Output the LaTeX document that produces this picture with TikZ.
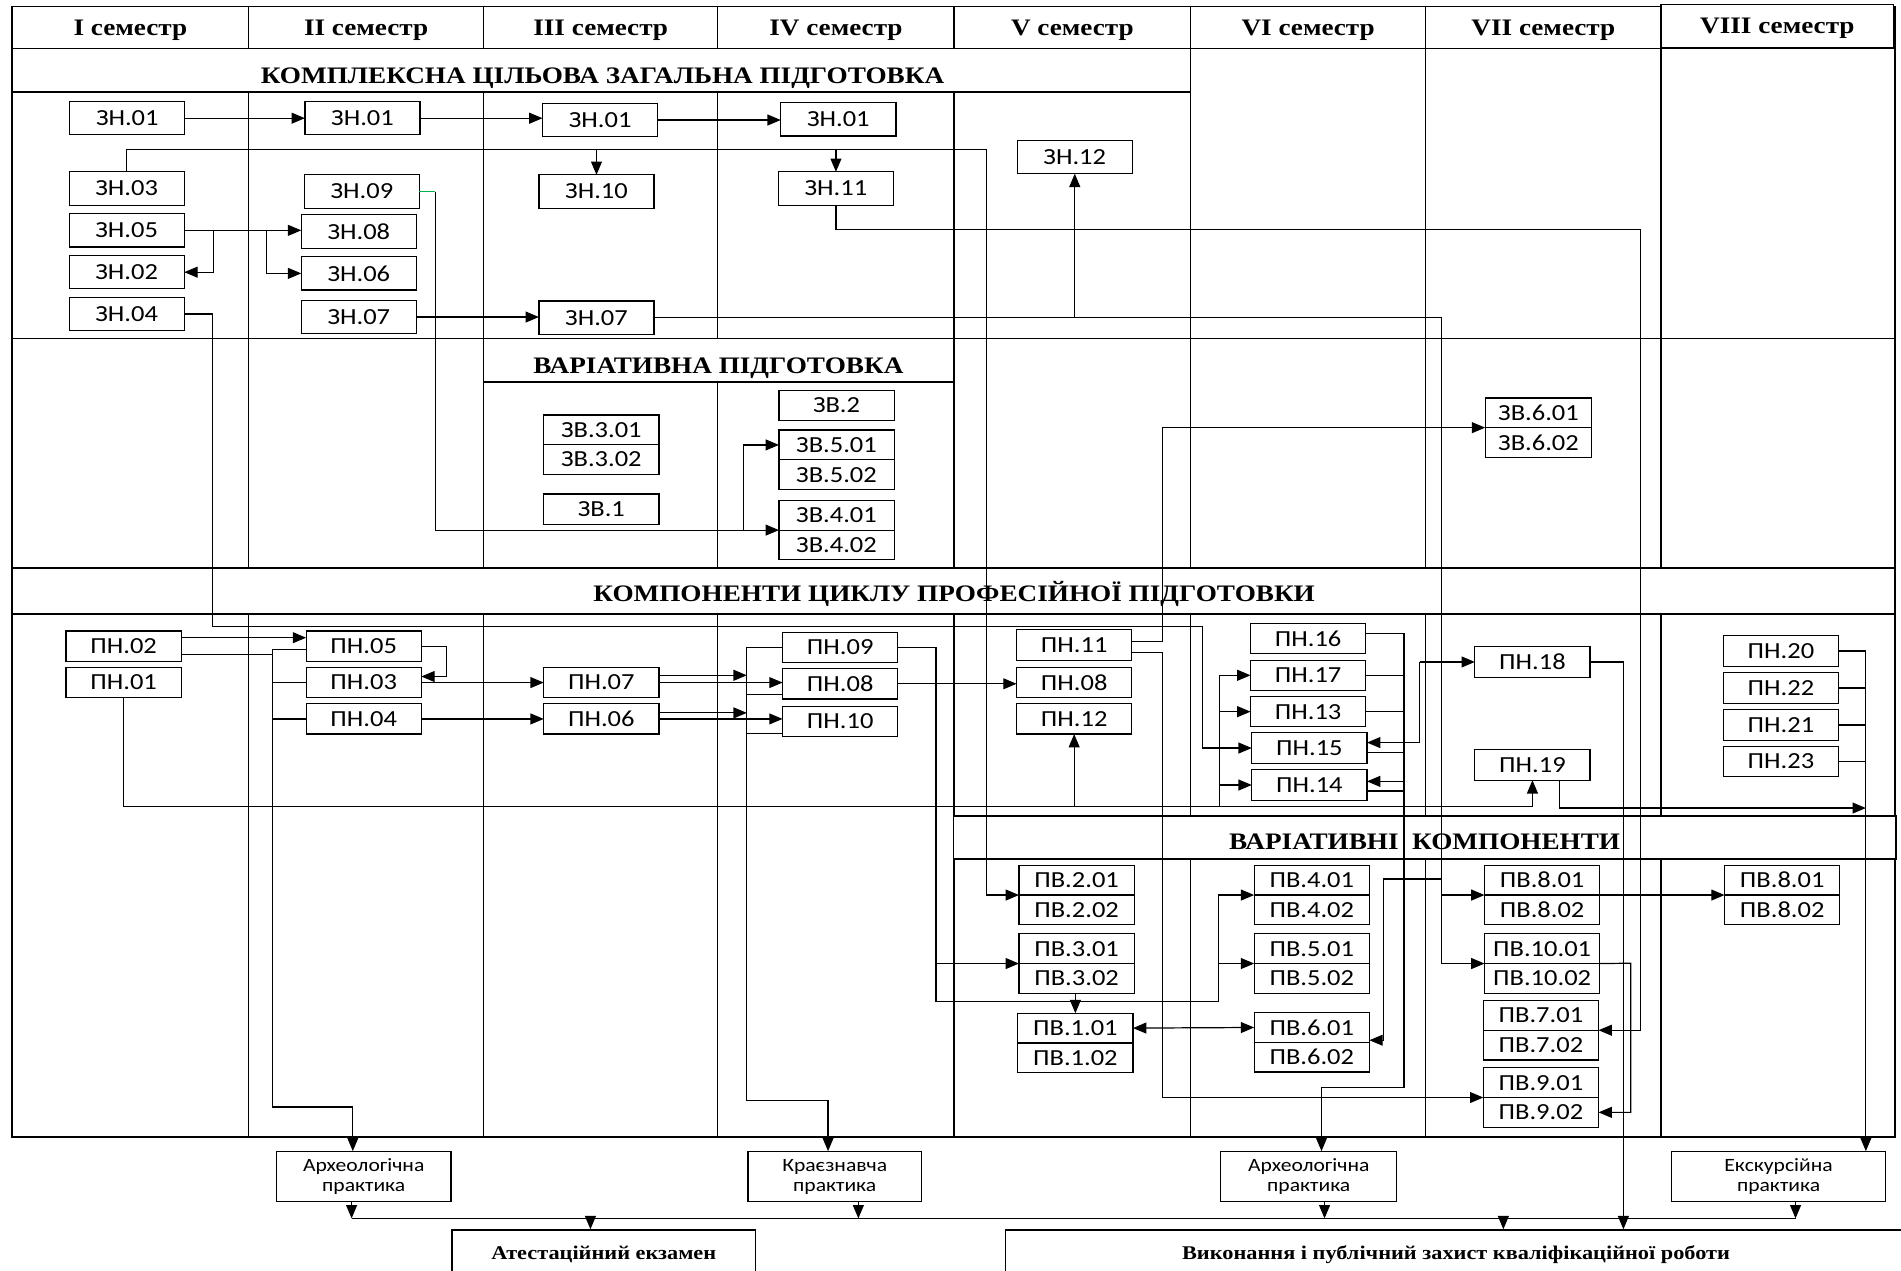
\documentclass[tikz,border=0pt]{standalone}
\usepackage{fontspec}
\setmainfont{Liberation Serif}[FakeStretch=1.15]
\newfontfamily\boxfont{Carlito}[FakeStretch=1.15]
\usetikzlibrary{positioning,arrows.meta}
\definecolor{stubgreen}{RGB}{0,176,80}

\begin{document}
\begin{tikzpicture}[x=1pt,y=-1pt,
  grid/.style={line width=1.2pt},
  band/.style={draw, fill=white, line width=1.2pt},
  bandtext/.style={anchor=base, inner sep=0pt, font=\fontsize{19.5}{20}\selectfont\bfseries},
  box/.style={draw, fill=white, line width=1pt, minimum width=95pt, minimum height=27.5pt, inner sep=0pt, outer sep=0pt, font=\boxfont\fontsize{19}{19}\selectfont},
  pnbox/.style={box, minimum height=25pt},
  pair/.style={box, minimum height=24.5pt},
  prbox/.style={draw, fill=white, line width=1pt, minimum height=41pt, inner sep=0pt, align=center, font=\boxfont\fontsize{15.5}{16.5}\selectfont},
  endbox/.style={draw, fill=white, line width=1.1pt, minimum height=41pt, inner sep=0pt, font=\fontsize{16}{17}\selectfont\bfseries},
  link/.style={line width=1pt},
  arr/.style={link, -{Triangle[length=11pt,width=9pt]}},
  darr/.style={link, {Triangle[length=11pt,width=9pt]}-{Triangle[length=11pt,width=9pt]}}]

\useasboundingbox (0,0) rectangle (1568,1048);

% semester grid
\draw[grid] (10,5.5) rectangle (1563,938);
\draw[grid] (10,40) -- (1563,40);
\draw[grid] (10,279) -- (1563,279);
\foreach \x in {205,399,592,787,982,1176,1370}
  \draw[grid] (\x,5.5) -- (\x,938);
\draw[band] (1370,3.5) rectangle (1562,39.5);
\foreach \r/\x in {I/107.5,II/302,III/495.5,IV/689.5,V/884.5,VI/1079,VII/1273}
  \node[bandtext] (sem\r) at (\x,29) {\r\ семестр};
\node[bandtext] (semVIII) at (1466,27.5) {VIII семестр};

% bands
\draw[band] (10,40) rectangle (982,76);
\node[bandtext] (kczp) at (497,68.7) {КОМПЛЕКСНА ЦІЛЬОВА ЗАГАЛЬНА ПІДГОТОВКА};
\draw[band] (399,279) rectangle (787,315);
\node[bandtext] (vp) at (592.5,308) {ВАРІАТИВНА ПІДГОТОВКА};
\draw[band] (10,468.6) rectangle (1563,506.6);
\node[bandtext] (kcpp) at (787,496) {КОМПОНЕНТИ ЦИКЛУ ПРОФЕСІЙНОЇ ПІДГОТОВКИ};
\draw[band] (786.5,673) rectangle (1564,708.7);
\node[bandtext] (vk) at (1175,700.5) {ВАРІАТИВНІ\ \ КОМПОНЕНТИ};

% ZN
\node[box] (zn01a) at (105,97.5) {ЗН.01};
\node[box] (zn03) at (104.5,155.5) {ЗН.03};
\node[box] (zn05) at (104.5,190) {ЗН.05};
\node[box] (zn02) at (104.5,224.5) {ЗН.02};
\node[box] (zn04) at (104.5,259) {ЗН.04};
\node[box] (zn01b) at (299,97.5) {ЗН.01};
\node[box] (zn09) at (298.5,158) {ЗН.09};
\node[box] (zn08) at (296,191) {ЗН.08};
\node[box] (zn06) at (296,225.5) {ЗН.06};
\node[box] (zn07a) at (296,261.5) {ЗН.07};
\node[box] (zn01c) at (495,99) {ЗН.01};
\node[box] (zn10) at (492,158) {ЗН.10};
\node[box] (zn07b) at (492,262) {ЗН.07};
\node[box] (zn01d) at (691.5,98.5) {ЗН.01};
\node[box] (zn11) at (689.5,155.5) {ЗН.11};
\node[box] (zn12) at (886.5,129.5) {ЗН.12};

% ZV
\node[pair] (zv301) at (496,354.5) {ЗВ.3.01};
\node[pair, below=0pt of zv301] (zv302) {ЗВ.3.02};
\node[pnbox] (zv1) at (496,420) {ЗВ.1};
\node[pnbox] (zv2) at (690,334.5) {ЗВ.2};
\node[pair] (zv501) at (690,367) {ЗВ.5.01};
\node[pair, below=0pt of zv501] (zv502) {ЗВ.5.02};
\node[pair] (zv401) at (690,425) {ЗВ.4.01};
\node[pair, below=0pt of zv401] (zv402) {ЗВ.4.02};
\node[pair, minimum width=88pt] (zv601) at (1269,340.5) {ЗВ.6.01};
\node[pair, minimum width=88pt, below=0pt of zv601] (zv602) {ЗВ.6.02};

% PN
\node[pnbox] (pn02) at (102,533) {ПН.02};
\node[pnbox] (pn01) at (102,563) {ПН.01};
\node[pnbox] (pn05) at (300,533) {ПН.05};
\node[pnbox] (pn03) at (300,563) {ПН.03};
\node[pnbox] (pn04) at (300,593) {ПН.04};
\node[pnbox] (pn07) at (496,563) {ПН.07};
\node[pnbox] (pn06) at (496,593) {ПН.06};
\node[pnbox] (pn09) at (693,534) {ПН.09};
\node[pnbox] (pn08a) at (693,564) {ПН.08};
\node[pnbox] (pn10) at (693,595) {ПН.10};
\node[pnbox] (pn11) at (886,532) {ПН.11};
\node[pnbox] (pn08b) at (886,563) {ПН.08};
\node[pnbox] (pn12) at (886,593) {ПН.12};
\node[pnbox] (pn16) at (1079,526.5) {ПН.16};
\node[pnbox] (pn17) at (1079,557) {ПН.17};
\node[pnbox] (pn13) at (1079,587) {ПН.13};
\node[pnbox] (pn15) at (1080,617) {ПН.15};
\node[pnbox] (pn14) at (1080,647.5) {ПН.14};
\node[pnbox] (pn18) at (1264,546) {ПН.18};
\node[pnbox] (pn19) at (1264,631) {ПН.19};
\node[pnbox] (pn20) at (1469,537) {ПН.20};
\node[pnbox] (pn22) at (1469,567.5) {ПН.22};
\node[pnbox] (pn21) at (1469,598) {ПН.21};
\node[pnbox] (pn23) at (1469,628) {ПН.23};

% PV
\node[pair] (pv201) at (888,726) {ПВ.2.01};
\node[pair, below=0pt of pv201] (pv202) {ПВ.2.02};
\node[pair] (pv301) at (888,782.5) {ПВ.3.01};
\node[pair, below=0pt of pv301] (pv302) {ПВ.3.02};
\node[pair] (pv101) at (887,848) {ПВ.1.01};
\node[pair, below=0pt of pv101] (pv102) {ПВ.1.02};
\node[pair] (pv401) at (1082,726) {ПВ.4.01};
\node[pair, below=0pt of pv401] (pv402) {ПВ.4.02};
\node[pair] (pv501) at (1082,782.5) {ПВ.5.01};
\node[pair, below=0pt of pv501] (pv502) {ПВ.5.02};
\node[pair] (pv601) at (1082,847.5) {ПВ.6.01};
\node[pair, below=0pt of pv601] (pv602) {ПВ.6.02};
\node[pair] (pv801a) at (1272,726) {ПВ.8.01};
\node[pair, below=0pt of pv801a] (pv802a) {ПВ.8.02};
\node[pair] (pv1001) at (1272,782.5) {ПВ.10.01};
\node[pair, below=0pt of pv1001] (pv1002) {ПВ.10.02};
\node[pair] (pv701) at (1271,837.5) {ПВ.7.01};
\node[pair, below=0pt of pv701] (pv702) {ПВ.7.02};
\node[pair] (pv901) at (1271,893) {ПВ.9.01};
\node[pair, below=0pt of pv901] (pv902) {ПВ.9.02};
\node[pair] (pv801b) at (1470,726) {ПВ.8.01};
\node[pair, below=0pt of pv801b] (pv802b) {ПВ.8.02};

% practice and final boxes
\node[prbox, minimum width=144pt] (prA1) at (300,970.5) {Археологічна\\практика};
\node[prbox, minimum width=143pt] (prK) at (688.5,970.5) {Краєзнавча\\практика};
\node[prbox, minimum width=145pt] (prA2) at (1079.5,970.5) {Археологічна\\практика};
\node[prbox, minimum width=176pt] (prE) at (1467,970.5) {Екскурсійна\\практика};
\node[endbox, minimum width=250.5pt] (exam) at (498,1035) {Атестаційний екзамен};
\node[endbox, minimum width=743pt] (thesis) at (1201,1035) {Виконання і публічний захист кваліфікаційної роботи};

% ZN links
\draw[arr] (zn01a.east) -- (zn01a.east -| zn01b.west);
\draw[arr] (zn01b.east) -- (zn01b.east -| zn01c.west);
\draw[arr] (zn01c.east) -- (zn01c.east -| zn01d.west);
\coordinate (r03) at (814,123);
\draw[arr] (zn03.north) |- (r03) |- (pv201.south west);
\draw[arr] (zn10.north |- r03) -- (zn10.north);
\draw[arr] (zn11.north |- r03) -- (zn11.north);
\draw[arr] (zn05.east) -- (zn05.east -| zn08.west);
\coordinate (r05a) at (176,190);
\coordinate (r05b) at (220,190);
\draw[arr] (r05a) |- (zn02.east);
\draw[arr] (r05b) |- (zn06.west);
\coordinate (r09) at (359,158);
\draw[link, stubgreen] (zn09.east) -- (r09);
\draw[arr] (r09) |- (zv401.south west);
\coordinate (r09b) at (613,437);
\draw[arr] (r09b) |- (zv501.west);
\coordinate (r04a) at (175,517);
\coordinate (r04b) at (992,517);
\draw[arr] (zn04.east) -| (r04a) -- (r04b) |- (pn15.west);
\draw[arr] (zn07a.east) -- (zn07a.east -| zn07b.west);
\coordinate (r07) at (1189,262);
\draw[arr] (zn07b.east) -- (r07) |- (pv1001.south west);
\draw[arr] (zn12.south |- r07) -- (zn12.south);
\draw[arr] (r07 |- pv801a.south west) -- (pv801a.south west);
\coordinate (r07c) at (1189,725);
\coordinate (r07d) at (1141,858);
\draw[arr] (r07c) -| (r07d) -- (r07d -| pv601.east);
\coordinate (r11) at (1353,189);
\draw[arr] (zn11.south) |- (r11) |- (pv701.south east);

% PN links
\coordinate (cA) at (225,535.5);
\coordinate (cAb) at (225,913);
\draw[arr] ([yshift=7pt]pn02.east) -- ([yshift=7pt]pn02.east -| pn05.west);
\draw[link] ([yshift=-7pt]pn02.east) -- ([yshift=-7pt]pn02.east -| cA);
\draw[arr] (pn05.west |- cA) -- (cA) -- (cAb) -| ([xshift=-9pt]prA1.north);
\draw[link] (pn03.west) -- (pn03.west -| cA);
\draw[link] (pn04.west) -- (pn04.west -| cA);
\coordinate (c05) at (368,533);
\draw[arr] (pn05.east) -- (c05) |- ([yshift=5pt]pn03.east);
\draw[arr] (pn03.east) -- (pn07.west);
\draw[arr] (pn04.east) -- (pn06.west);
\coordinate (cB) at (616,534);
\coordinate (cBb) at (616,908);
\draw[arr] (pn09.west) -- (cB) -- (cBb) -| ([xshift=-5.5pt]prK.north);
\draw[arr] ([yshift=6pt]pn07.east) -- ([yshift=6pt]pn07.east -| cB);
\draw[arr] (pn07.east) -- (pn07.east -| pn08a.west);
\draw[arr] ([yshift=5pt]pn06.east) -- ([yshift=5pt]pn06.east -| cB);
\draw[arr] (pn06.east) -- (pn06.east -| pn10.west);
\draw[link] ([yshift=-9pt]pn08a.west) -- ([yshift=-9pt]pn08a.west -| cB);
\draw[link] ([yshift=-10pt]pn10.west) -- ([yshift=-10pt]pn10.west -| cB);
\coordinate (c09) at (772,826);
\coordinate (c09c) at (1005,826);
\draw[arr] (pn09.east) -| (c09) -- (c09c) |- (pv401.south west);
\draw[arr] (c09 |- pv301.south west) -- (pv301.south west);
\draw[arr] (c09c |- pv501.south west) -- (pv501.south west);
\draw[arr] (pn08a.east) -- (pn08a.east -| pn08b.west);
\coordinate (c01) at (1006,665);
\draw[arr] (pn01.south) |- (c01) -| (pn19.south);
\draw[link] (c01) -- (c01 |- pn17.west);
\draw[arr] (c01 |- pn17.west) -- (pn17.west);
\draw[arr] (c01 |- pn13.west) -- (pn13.west);
\draw[arr] (c01 |- pn14.west) -- (pn14.west);
\draw[arr] (pn12.south |- c01) -- (pn12.south);
\coordinate (r11a) at (959,529);
\coordinate (r11b) at (959,538);
\draw[arr] (pn11.east |- r11a) -- (r11a) |- (zv601.south west);
\draw[arr] (pn11.east |- r11b) -- (r11b) |- (pv901.south west);
\coordinate (cC) at (1158,522.5);
\coordinate (cCb) at (1158,897);
\draw[arr] ([yshift=4pt]pn16.east) -- (cC) -- (cCb) -| ([xshift=10.5pt]prA2.north);
\draw[link] (pn17.east) -- (pn17.east -| cC);
\draw[link] (pn13.east) -- (pn13.east -| cC);
\draw[link] ([yshift=-4pt]pn15.east) -- ([yshift=-4pt]pn15.east -| cC);
\draw[arr] ([yshift=3pt]pn14.east -| cC) -- ([yshift=3pt]pn14.east);
\draw[link] ([yshift=-5pt]pn14.east) -- ([yshift=-5pt]pn14.east -| cC);
\coordinate (c15) at (1171,546);
\draw[arr] (c15) |- ([yshift=4.5pt]pn15.east);
\draw[arr] (c15) -- (pn18.west);
\coordinate (c18) at (1339,546);
\draw[arr] (pn18.east) -| (c18 |- thesis.north);
\coordinate (cD) at (1539,537);
\coordinate (c19) at (1286,666.5);
\draw[arr] (c19 |- pn19.south) -- (c19) -- (cD |- c19);
\draw[arr] (pn20.east) -| (cD |- prE.north);
\draw[link] (pn22.east) -- (pn22.east -| cD);
\draw[link] (pn21.east) -- (pn21.east -| cD);
\draw[link] (pn23.east) -- (pn23.east -| cD);

% PV links
\draw[arr] (pv101.north |- pv302.south) -- (pv101.north);
\draw[darr] (pv101.east) -- (pv601.west);
\draw[arr] (pv801a.south east) -- (pv801b.south west);
\coordinate (c10) at (1345,794.5);
\draw[arr] (pv1001.south east) -- (c10) |- (pv902.east);

% practice to final
\coordinate (bl) at (290,1005);
\coordinate (br) at (1481,1005);
\draw[link] (bl) -- (br);
\draw[arr] ([xshift=-10pt]prA1.south) -- ([xshift=-10pt]prA1.south |- bl);
\draw[arr] ([xshift=19.5pt]prK.south) -- ([xshift=19.5pt]prK.south |- bl);
\draw[arr] ([xshift=13pt]prA2.south) -- ([xshift=13pt]prA2.south |- bl);
\draw[arr] ([xshift=14pt]prE.south) -- ([xshift=14pt]prE.south |- bl);
\draw[arr] ([xshift=-11pt]exam.north |- bl) -- ([xshift=-11pt]exam.north);
\coordinate (bt) at (1240,1005);
\draw[arr] (bt) -- (bt |- thesis.north);
\end{tikzpicture}
\end{document}
